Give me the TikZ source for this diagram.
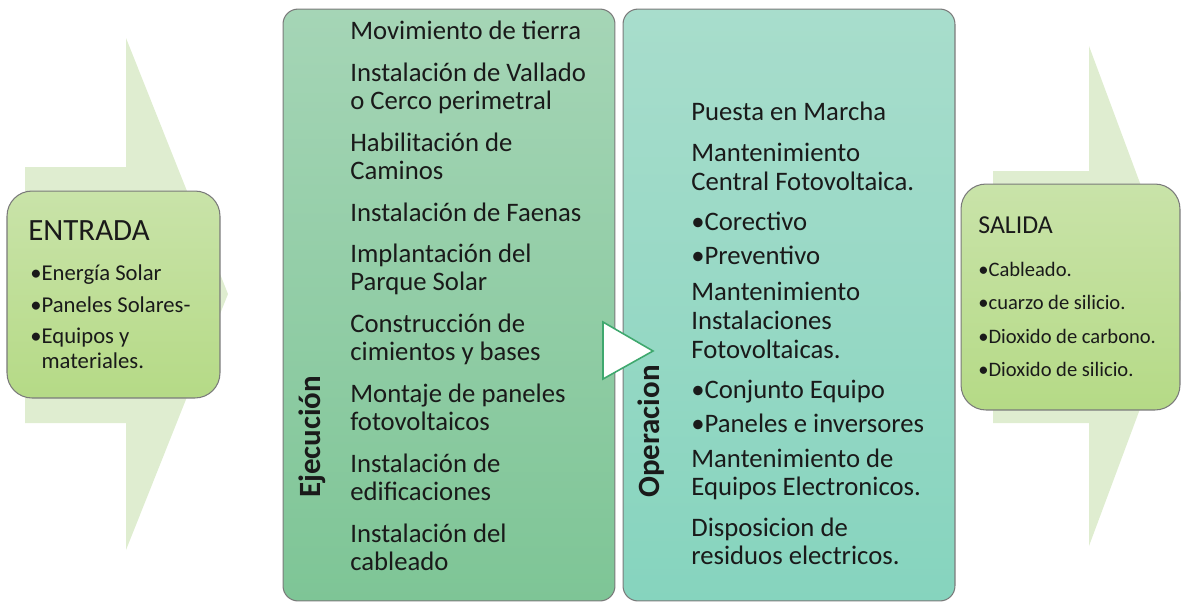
\documentclass[tikz,border=0pt]{standalone}
\usepackage{fontspec}
\setmainfont{Carlito}
\usepackage{tikz}
\usetikzlibrary{positioning}
\definecolor{arrowpale}{HTML}{DFEDD0}
\definecolor{inouttop}{HTML}{C9E3A9}
\definecolor{inoutbot}{HTML}{B5DA86}
\definecolor{ejectop}{HTML}{A5D5B6}
\definecolor{ejecbot}{HTML}{7EC596}
\definecolor{opertop}{HTML}{A8DDCC}
\definecolor{operbot}{HTML}{86D4BE}
\definecolor{boxedge}{HTML}{7A7A7A}
\definecolor{triedge}{HTML}{3FA86E}
\definecolor{txtdark}{HTML}{1A1A1A}

\begin{document}
\begin{tikzpicture}[
  x=0.02cm, y=-0.02cm,
  bigarrow/.style={fill=arrowpale, draw=none},
  inoutbox/.style={rectangle, rounded corners=0.5cm, draw=boxedge, line width=0.6pt,
              top color=inouttop, bottom color=inoutbot, inner sep=0},
  stagebox/.style={rectangle, rounded corners=0.3cm, draw=boxedge, line width=0.6pt,
              minimum width=6.64cm, minimum height=11.84cm, inner sep=0},
  itemtext/.style={anchor=north west, inner sep=0, align=left, text=txtdark,
              font=\fontsize{15.2}{16.3}\selectfont},
  stagelabel/.style={rotate=90, inner sep=0, text=txtdark,
              font=\fontsize{17.6}{20}\selectfont\bfseries},
  tri/.style={fill=white, draw=triedge, line width=0.9pt},
]
\useasboundingbox (0,0) rectangle (1181,603);

% Background arrows
\fill[bigarrow] (25,167) -- (126,167) -- (126,38) -- (228,294) -- (126,550)
  -- (126,423) -- (25,423) -- cycle;
\fill[bigarrow] (993,171) -- (1089,171) -- (1089,46) -- (1182,296) -- (1089,546)
  -- (1089,423) -- (993,423) -- cycle;

% Input
\node[inoutbox, minimum width=4.26cm, minimum height=4.14cm] (entrada) at (113.5,294.5) {};
\node[anchor=base west, inner sep=0, text=txtdark, font=\fontsize{17.6}{20}\selectfont]
  (entradatitle) at (28,240) {ENTRADA};
\node[itemtext, font=\fontsize{12.9}{14.2}\selectfont] (entradaitems) at (30,262.8)
  {\strut•Energía Solar\\[3.7pt]•Paneles Solares-\\[3.7pt]•Equipos y\\\phantom{•}materiales.};

% Stages
\node[stagebox, top color=ejectop, bottom color=ejecbot] (ejec) at (449,305) {};
\node[stagebox, top color=opertop, bottom color=operbot] (oper) at (789,305) {};
\draw[tri] (603,322) -- (653,351) -- (603,379) -- cycle;

\node[stagelabel] (ejeclabel) at (312,437) {Ejecución};
\node[itemtext, font=\fontsize{15.2}{16.2}\selectfont] (ejecitems) at (350,19.4)
  {\strut Movimiento de tierra\\[7.4pt]
   Instalación de Vallado\\o Cerco perimetral\\[7.4pt]
   Habilitación de\\Caminos\\[7.4pt]
   Instalación de Faenas\\[7.4pt]
   Implantación del\\Parque Solar\\[7.4pt]
   Construcción de\\cimientos y bases\\[7.4pt]
   Montaje de paneles\\fotovoltaicos\\[7.4pt]
   Instalación de\\edificaciones\\[7.4pt]
   Instalación del\\cableado};

\node[stagelabel] (operlabel) at (651.5,431.5) {Operacion};
\node[itemtext] (operitems) at (691,100.3)
  {\strut Puesta en Marcha\\[7.1pt]
   Mantenimiento\\Central Fotovoltaica.\\[6.5pt]
   •Corectivo\\[3.1pt]
   •Preventivo\\[4.3pt]
   Mantenimiento\\Instalaciones\\Fotovoltaicas.\\[6.5pt]
   •Conjunto Equipo\\[3.1pt]
   •Paneles e inversores\\[3.7pt]
   Mantenimiento de\\Equipos Electronicos.\\[6.5pt]
   Disposicion de\\residuos electricos.};

% Output
\node[inoutbox, minimum width=4.38cm, minimum height=4.52cm] (salida) at (1070.5,297) {};
\node[anchor=base west, inner sep=0, text=txtdark, font=\fontsize{14.7}{17}\selectfont]
  (salidatitle) at (978,233) {SALIDA};
\node[itemtext, font=\fontsize{11.7}{18.9}\selectfont] (salidaitems) at (978,253)
  {\strut•Cableado.\\•cuarzo de silicio.\\•Dioxido de carbono.\\•Dioxido de silicio.};

\end{tikzpicture}
\end{document}
